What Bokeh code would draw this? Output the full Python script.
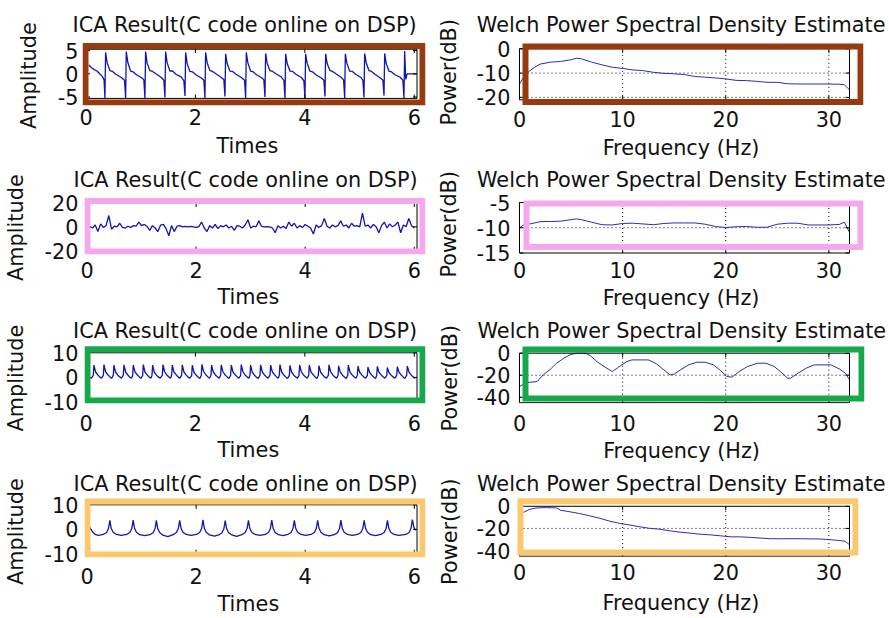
from bokeh.plotting import figure
from bokeh.models import Range1d, FixedTicker, BoxAnnotation
from bokeh.layouts import column, row
from bokeh.embed import file_html
from bokeh.resources import INLINE

# ---------------- data ----------------
title_time = "ICA Result(C code online on DSP)"
title_psd = "Welch Power Spectral Density Estimate"
xlabel_time = "Times"
xlabel_psd = "Frequency (Hz)"
ylabel_time = "Amplitude"
ylabel_psd = "Power(dB)"

xticks_time = [0, 2, 4, 6]
xticks_freq = [0, 10, 20, 30]
yticks_1 = [-5, 0, 5]
yticks_2 = [-20, 0, 20]
yticks_3 = [-10, 0, 10]
yticks_4 = [-10, 0, 10]
yticks_p1 = [-20, -10, 0]
yticks_p2 = [-15, -10, -5]
yticks_p3 = [-40, -20, 0]
yticks_p4 = [-40, -20, 0]

sig1_t = [0.05, 0.10, 0.15, 0.20, 0.25, 0.30, 0.33,
          0.346, 0.358, 0.386, 0.436, 0.486, 0.546, 0.646, 0.704,
          0.724, 0.736, 0.764, 0.814, 0.864, 0.924, 1.024, 1.057,
          1.077, 1.089, 1.117, 1.167, 1.217, 1.277, 1.377, 1.423,
          1.443, 1.455, 1.483, 1.533, 1.583, 1.643, 1.743, 1.789,
          1.809, 1.821, 1.849, 1.899, 1.949, 2.009, 2.109, 2.154,
          2.174, 2.186, 2.214, 2.264, 2.314, 2.374, 2.474, 2.520,
          2.540, 2.552, 2.580, 2.630, 2.680, 2.740, 2.840, 2.898,
          2.918, 2.930, 2.958, 3.008, 3.058, 3.118, 3.218, 3.251,
          3.271, 3.283, 3.311, 3.361, 3.411, 3.471, 3.571, 3.617,
          3.637, 3.649, 3.677, 3.727, 3.777, 3.837, 3.937, 3.982,
          4.002, 4.014, 4.042, 4.092, 4.142, 4.202, 4.302, 4.348,
          4.368, 4.380, 4.408, 4.458, 4.508, 4.568, 4.668, 4.708,
          4.728, 4.740, 4.768, 4.818, 4.868, 4.928, 5.028, 5.061,
          5.081, 5.093, 5.121, 5.171, 5.221, 5.281, 5.381, 5.427,
          5.447, 5.459, 5.487, 5.537, 5.587, 5.647, 5.747, 5.792,
          5.812, 5.824, 5.845, 5.870, 6.040]
sig1_v = [1.9, 1.3, 0.9, 0.6, 0.0, -0.6, -1.3,
          -5.2, 4.6, 2.4, 0.7, 0.5, -0.1, -0.8, -1.4,
          -5.2, 4.8, 2.5, 0.6, 0.4, -0.2, -0.9, -1.3,
          -5.2, 4.8, 2.3, 0.7, 0.5, 0.0, -0.8, -1.4,
          -5.1, 4.8, 2.4, 0.6, 0.6, -0.1, -0.7, -1.5,
          -4.8, 4.6, 2.2, 0.5, 0.4, -0.2, -0.9, -1.4,
          -5.2, 4.6, 2.4, 0.7, 0.5, 0.0, -0.8, -1.3,
          -4.9, 4.3, 2.2, 0.6, 0.5, -0.1, -0.8, -1.4,
          -5.2, 4.6, 2.4, 0.6, 0.4, -0.2, -0.9, -1.3,
          -5.0, 4.4, 2.3, 0.7, 0.5, 0.0, -0.7, -1.4,
          -5.2, 4.3, 2.2, 0.6, 0.5, -0.1, -0.8, -1.5,
          -5.2, 4.3, 2.3, 0.6, 0.4, -0.2, -0.9, -1.4,
          -4.9, 4.3, 2.2, 0.7, 0.5, 0.0, -0.8, -1.3,
          -5.2, 4.3, 2.3, 0.6, 0.5, -0.1, -0.8, -1.4,
          -5.1, 4.4, 2.4, 0.7, 0.5, -0.1, -0.9, -1.4,
          -4.7, 4.4, 2.2, 0.6, 0.4, -0.2, -0.8, -1.4,
          -5.2, 4.9, -1.2, 0.0, 0.0]

sig2_dt = 0.05
sig2_v = [0.5, -1.0, 1.5, -4.0, 2.5, -0.5, 1.0, 9.5, -2.0, 0.5,
          0.0, 3.0, -0.5, -1.0, 0.5, -0.5, 1.0, 0.5, 4.0, 1.0,
          2.0, 0.5, -3.0, 1.0, -1.0, -4.0, 1.5, 2.0, -1.5, -7.5,
          1.0, -4.0, 0.5, 1.0, 0.0, 0.3, 0.0, 0.3, 0.0, -0.5,
          0.2, 4.0, -1.0, -4.0, 1.0, -1.0, 2.0, -1.5, 1.0, 0.0,
          1.5, -1.0, 0.5, -3.0, 1.0, 0.5, -1.0, 1.5, 6.0, -1.0,
          0.5, 0.0, 5.0, 0.3, 0.0, 0.2, 0.0, -1.0, -5.0, 1.0,
          -1.0, 0.5, -1.5, 4.0, 0.5, 3.0, -1.0, 1.0, -0.5, 2.0,
          0.5, -1.0, -6.0, 1.5, -0.5, 1.0, 7.0, 0.5, -1.0, 1.5,
          0.0, 1.0, 5.0, 0.5, 1.5, -1.0, 3.0, 0.5, 1.0, 0.0,
          11.5, 0.5, 1.5, -1.0, 2.0, 0.0, -5.0, 1.0, 4.0, -1.0,
          2.5, 0.0, 1.5, 4.0, -5.0, 1.5, 0.0, 7.0, 1.0, -1.0]

sig3_t = [0.05, 0.100,
          0.133, 0.145, 0.175, 0.215, 0.255, 0.283,
          0.316, 0.328, 0.358, 0.398, 0.438, 0.466,
          0.499, 0.511, 0.541, 0.581, 0.621, 0.649,
          0.682, 0.694, 0.724, 0.764, 0.804, 0.832,
          0.852, 0.864, 0.894, 0.934, 0.974, 1.002,
          1.035, 1.047, 1.077, 1.117, 1.157, 1.185,
          1.206, 1.218, 1.248, 1.288, 1.328, 1.356,
          1.395, 1.407, 1.437, 1.477, 1.517, 1.545,
          1.565, 1.577, 1.607, 1.647, 1.687, 1.715,
          1.748, 1.760, 1.790, 1.830, 1.870, 1.898,
          1.931, 1.943, 1.973, 2.013, 2.053, 2.081,
          2.107, 2.119, 2.149, 2.189, 2.229, 2.257,
          2.284, 2.296, 2.326, 2.366, 2.406, 2.434,
          2.461, 2.473, 2.503, 2.543, 2.583, 2.611,
          2.644, 2.656, 2.686, 2.726, 2.766, 2.794,
          2.826, 2.838, 2.868, 2.908, 2.948, 2.976,
          2.997, 3.009, 3.039, 3.079, 3.119, 3.147,
          3.180, 3.192, 3.222, 3.262, 3.302, 3.330,
          3.363, 3.375, 3.405, 3.445, 3.485, 3.513,
          3.533, 3.545, 3.575, 3.615, 3.655, 3.683,
          3.716, 3.728, 3.758, 3.798, 3.838, 3.866,
          3.893, 3.905, 3.935, 3.975, 4.015, 4.043,
          4.070, 4.082, 4.112, 4.152, 4.192, 4.220,
          4.246, 4.258, 4.288, 4.328, 4.368, 4.396,
          4.429, 4.441, 4.471, 4.511, 4.551, 4.579,
          4.606, 4.618, 4.648, 4.688, 4.728, 4.756,
          4.783, 4.795, 4.825, 4.865, 4.905, 4.933,
          4.959, 4.971, 5.001, 5.041, 5.081, 5.109,
          5.142, 5.154, 5.184, 5.224, 5.264, 5.292,
          5.313, 5.325, 5.355, 5.395, 5.435, 5.463,
          5.496, 5.508, 5.538, 5.578, 5.618, 5.646,
          5.679, 5.691, 5.721, 5.761, 5.801, 5.829,
          5.861, 5.873, 5.903, 5.943, 5.983, 6.020]
sig3_v = [0.1, -0.3,
          0.8, 5.0, 2.2, 1.0, 0.1, -0.3,
          0.7, 5.2, 2.3, 1.1, 0.2, -0.4,
          0.8, 5.0, 2.1, 0.9, 0.1, -0.3,
          0.9, 5.1, 2.2, 1.0, 0.0, -0.3,
          0.8, 5.0, 2.3, 1.1, 0.2, -0.4,
          0.7, 5.2, 2.2, 1.0, 0.1, -0.3,
          0.8, 5.0, 2.1, 0.9, 0.1, -0.3,
          0.8, 5.2, 2.3, 1.0, 0.2, -0.4,
          0.9, 5.0, 2.2, 1.1, 0.1, -0.3,
          0.8, 5.1, 2.2, 1.0, 0.0, -0.3,
          0.7, 5.0, 2.1, 0.9, 0.1, -0.4,
          0.8, 5.3, 2.4, 1.1, 0.2, -0.3,
          0.8, 5.0, 2.2, 1.0, 0.1, -0.3,
          0.9, 5.1, 2.3, 1.0, 0.1, -0.4,
          0.8, 5.0, 2.2, 1.1, 0.2, -0.3,
          0.7, 5.2, 2.3, 1.0, 0.1, -0.3,
          0.8, 5.0, 2.1, 0.9, 0.0, -0.4,
          0.8, 5.1, 2.2, 1.0, 0.1, -0.3,
          0.9, 5.0, 2.3, 1.1, 0.2, -0.3,
          0.8, 5.2, 2.2, 1.0, 0.1, -0.4,
          0.7, 4.9, 2.1, 0.9, 0.1, -0.3,
          0.8, 5.1, 2.3, 1.0, 0.2, -0.3,
          0.8, 5.0, 2.2, 1.1, 0.1, -0.4,
          0.9, 4.8, 2.1, 1.0, 0.0, -0.3,
          0.8, 5.1, 2.3, 1.0, 0.1, -0.3,
          0.7, 4.7, 2.1, 0.9, 0.1, -0.4,
          0.8, 5.0, 2.2, 1.0, 0.2, -0.3,
          0.8, 4.6, 2.1, 1.0, 0.1, -0.3,
          0.7, 4.2, 2.0, 0.9, 0.1, -0.4,
          0.8, 4.5, 2.1, 1.0, 0.2, -0.3,
          0.7, 4.0, 1.9, 0.9, 0.1, -0.3,
          0.8, 4.4, 2.1, 1.0, 0.1, -0.4,
          0.8, 4.6, 2.2, 1.0, 0.1, -0.4]

sig4_t = [0.05, 0.10, 0.16, 0.21,
          0.299, 0.359, 0.394, 0.419, 0.444, 0.479, 0.539, 0.629,
          0.726, 0.786, 0.821, 0.846, 0.871, 0.906, 0.966, 1.056,
          1.152, 1.212, 1.247, 1.272, 1.297, 1.332, 1.392, 1.482,
          1.579, 1.639, 1.674, 1.699, 1.724, 1.759, 1.819, 1.909,
          2.006, 2.066, 2.101, 2.126, 2.151, 2.186, 2.246, 2.336,
          2.414, 2.474, 2.509, 2.534, 2.559, 2.594, 2.654, 2.744,
          2.840, 2.900, 2.935, 2.960, 2.985, 3.020, 3.080, 3.170,
          3.267, 3.327, 3.362, 3.387, 3.412, 3.447, 3.507, 3.597,
          3.681, 3.741, 3.776, 3.801, 3.826, 3.861, 3.921, 4.011,
          4.108, 4.168, 4.203, 4.228, 4.253, 4.288, 4.348, 4.438,
          4.534, 4.594, 4.629, 4.654, 4.679, 4.714, 4.774, 4.864,
          4.961, 5.021, 5.056, 5.081, 5.106, 5.141, 5.201, 5.291,
          5.388, 5.448, 5.483, 5.508, 5.533, 5.568, 5.628, 5.718,
          5.845, 5.905, 5.940, 5.965, 5.990, 6.020]
sig4_v = [0.9, -1.0, -2.2, -2.5,
          -2.1, -1.3, 0.3, 3.6, 0.4, -1.2, -2.1, -2.5,
          -2.1, -1.3, 0.3, 3.8, 0.4, -1.2, -2.2, -2.6,
          -2.2, -1.4, 0.2, 3.6, 0.3, -1.3, -2.4, -3.0,
          -2.2, -1.3, 0.3, 3.7, 0.4, -1.2, -2.1, -2.5,
          -2.1, -1.3, 0.3, 3.9, 0.4, -1.2, -2.3, -2.8,
          -2.3, -1.4, 0.2, 3.5, 0.3, -1.3, -2.3, -2.9,
          -2.2, -1.3, 0.3, 3.7, 0.4, -1.2, -2.1, -2.5,
          -2.1, -1.3, 0.3, 3.8, 0.4, -1.2, -2.2, -2.6,
          -2.1, -1.3, 0.3, 3.6, 0.4, -1.2, -2.1, -2.5,
          -2.1, -1.3, 0.3, 3.7, 0.4, -1.2, -2.2, -2.7,
          -2.2, -1.3, 0.3, 3.8, 0.4, -1.2, -2.1, -2.5,
          -2.1, -1.3, 0.3, 3.7, 0.4, -1.2, -2.2, -2.6,
          -2.1, -1.3, 0.3, 3.6, 0.4, -1.2, -2.1, -2.5,
          -2.1, -1.3, 0.3, 4.0, 1.0, -0.5]

psd1_f = [0, 0.5, 1, 1.5, 2, 3, 4, 5, 5.5, 6, 7, 8, 9, 10, 11, 12, 13, 14, 15, 16,
          17, 18, 19, 20, 21, 22, 23, 24, 25, 26, 27, 28, 29, 30, 31, 31.5, 32]
psd1_db = [-14.5, -11.0, -9.0, -7.5, -6.3, -5.5, -5.2, -4.5, -3.9, -4.1, -5.5, -6.6,
           -7.6, -8.1, -8.7, -9.0, -9.7, -10.1, -10.3, -10.6, -11.4, -11.7, -12.0,
           -12.4, -13.0, -13.1, -13.4, -13.8, -13.8, -14.4, -14.5, -14.5, -14.5,
           -14.5, -14.6, -14.8, -16.9]

psd2_f = [0, 0.5, 1, 2, 3, 4, 5, 5.5, 6, 7, 8, 9, 10, 11, 12, 13, 14, 15, 16, 17,
          18, 19, 20, 21, 22, 23, 24, 25, 26, 27, 28, 29, 30, 31, 31.5, 32]
psd2_db = [-10.0, -9.3, -9.25, -8.8, -8.75, -8.7, -8.4, -8.25, -8.4, -8.9, -9.4,
           -9.45, -9.15, -9.1, -9.25, -9.4, -9.15, -9.05, -9.05, -9.05, -9.3, -9.75,
           -9.95, -9.8, -9.75, -9.9, -9.9, -9.3, -9.1, -9.1, -9.45, -9.45, -9.45,
           -9.35, -8.9, -10.9]

psd3_f = [0, 0.7, 1.7, 2.3, 3.0, 3.6, 4.3, 4.9, 5.5, 6.4, 6.9, 7.5, 8.3, 9.0, 9.6,
          10.4, 10.9, 11.7, 12.5, 13.3, 14.0, 14.6, 15.0, 15.6, 16.4, 17.2, 18.0,
          18.8, 19.5, 20.1, 20.6, 21.3, 22.1, 23.1, 23.9, 24.7, 25.3, 26.0, 26.3,
          27.0, 27.8, 28.6, 29.6, 30.2, 31.0, 31.6, 32.0]
psd3_db = [-30.3, -26.7, -25.8, -19.7, -14.5, -9.1, -4.5, -1.5, 0.0, 0.0, -2.4,
           -7.6, -12.7, -16.7, -12.7, -7.6, -6.1, -6.1, -6.1, -9.7, -15.2, -19.7,
           -19.0, -15.2, -10.6, -8.2, -8.2, -10.6, -15.8, -21.2, -21.8, -16.7,
           -12.1, -9.1, -9.1, -12.1, -16.7, -22.7, -22.7, -18.2, -13.6, -10.6,
           -10.6, -10.6, -14.2, -18.2, -24.2]

psd4_f = [0, 0.5, 1.0, 1.6, 2.6, 3.6, 4.0, 4.9, 5.8, 6.8, 7.8, 8.7, 9.7, 10.7, 11.6,
          12.6, 13.6, 14.6, 15.6, 16.6, 17.5, 18.5, 19.5, 20.5, 21.4, 22.4, 23.4,
          24.4, 25.4, 27.3, 29.3, 30.2, 31.2, 31.6, 32.0]
psd4_db = [-6.5, -5.0, -2.7, -1.5, -1.2, -1.5, -3.6, -5.0, -6.5, -8.6, -10.9, -13.3,
           -15.4, -16.9, -18.4, -19.9, -20.7, -22.2, -23.4, -24.3, -25.2, -25.8,
           -26.7, -27.6, -27.6, -28.1, -28.7, -29.3, -29.3, -29.3, -29.6, -30.2,
           -31.1, -31.7, -34.7]

# ---------------- styling / layout ----------------
FONT = "DejaVu Sans"
FS = "20.8px"
TXT = "#111111"
SIG_COLOR = "#1414b0"
PSD_COLOR = "#2c2cb4"
RING_W = 6
TICK_LEN = 4.0
NB = "\u00a0"

# empirical text-placement constants (pixels)
TITLE_K = 22.0       # cap top of title = frame top - TITLE_K - standoff/2
TITLE_GAP = 16       # frame top = title cap top + TITLE_GAP (negative standoff keeps panel small)
TICK_ASC = 1.2       # tick label box top -> digit top
XLAB_K = 23.5        # tick label extent + gap to x-label cap top

BROWN, PINK, GREEN, YELLOW = "#983a10", "#f5a8ee", "#17a84c", "#fbc86e"

LW, RW = 430, 459
ROWS = [(0, 162), (162, 151), (313, 153), (466, 152)]


def make_panel(cell, frame, box, xlim, ylim, xt, yt, xs, ys, ring, ring_color,
               title, title_left, title_cap, xlabel, xlab_pad, xlab_cap,
               ylabel, ylab_pad, ylab_std, xtick_cap, ytick_right, grid,
               line_color, line_width):
    cx, cy, cw, ch = cell
    fx0, fx1, fy1 = frame
    fy0 = int(round(title_cap + TITLE_GAP))
    bx0, by0, bx1, by1 = box
    sx = (bx1 - bx0) / (xlim[1] - xlim[0])
    sy = (by1 - by0) / (ylim[1] - ylim[0])

    def X(px):
        return xlim[0] + (px - bx0) / sx

    def Y(py):
        return ylim[0] + (by1 - py) / sy

    p = figure(width=cw, height=ch,
               x_range=Range1d(X(fx0), X(fx1)), y_range=Range1d(Y(fy1), Y(fy0)),
               min_border_left=fx0 - cx, min_border_right=cx + cw - fx1,
               min_border_top=fy0 - cy, min_border_bottom=cy + ch - fy1,
               output_backend="svg", toolbar_location=None, title=title)
    p.outline_line_color = None
    p.background_fill_color = "white"
    p.border_fill_color = "white"
    p.xgrid.visible = False
    p.ygrid.visible = False

    # title (left aligned with pixel offset so that it is centred like the original)
    p.title.text_font = FONT
    p.title.text_font_size = FS
    p.title.text_font_style = "normal"
    p.title.text_color = TXT
    p.title.align = "left"
    p.title.offset = title_left - fx0
    p.title.vertical_align = "top"
    p.title.standoff = 2 * (fy0 - TITLE_K - title_cap)

    ax = p.xaxis[0]
    ax.ticker = FixedTicker(ticks=xt, minor_ticks=[])
    ax.axis_line_color = None
    ax.major_tick_line_color = None
    ax.minor_tick_line_color = None
    ax.major_tick_out = 0
    ax.major_tick_in = 0
    ax.major_label_text_font = FONT
    ax.major_label_text_font_size = FS
    ax.major_label_text_color = TXT
    tstd = max(0, int(round(xtick_cap - TICK_ASC - fy1)))
    ax.major_label_standoff = tstd
    ax.axis_label = xlabel + NB * xlab_pad
    ax.axis_label_text_font = FONT
    ax.axis_label_text_font_size = FS
    ax.axis_label_text_font_style = "normal"
    ax.axis_label_text_color = TXT
    ax.axis_label_standoff = max(0, int(round(xlab_cap - fy1 - tstd - XLAB_K)))

    ay = p.yaxis[0]
    ay.ticker = FixedTicker(ticks=yt, minor_ticks=[])
    ay.major_label_overrides = {t: str(t) for t in yt}
    ay.axis_line_color = None
    ay.major_tick_line_color = None
    ay.minor_tick_line_color = None
    ay.major_tick_out = 0
    ay.major_tick_in = 0
    ay.major_label_text_font = FONT
    ay.major_label_text_font_size = FS
    ay.major_label_text_color = TXT
    ay.major_label_standoff = max(0, int(round(fx0 - ytick_right)))
    ay.axis_label = ylabel + NB * ylab_pad
    ay.axis_label_text_font = FONT
    ay.axis_label_text_font_size = FS
    ay.axis_label_text_font_style = "normal"
    ay.axis_label_text_color = TXT
    ay.axis_label_standoff = ylab_std

    # dotted grid (only inside the axes box)
    if grid:
        gx0, gy0, gx1, gy1 = [], [], [], []
        for t in xt:
            if xlim[0] < t < xlim[1]:
                gx0.append(t); gy0.append(ylim[0]); gx1.append(t); gy1.append(ylim[1])
        for t in yt:
            if ylim[0] < t < ylim[1]:
                gx0.append(xlim[0]); gy0.append(t); gx1.append(xlim[1]); gy1.append(t)
        p.segment(gx0, gy0, gx1, gy1, line_color="black", line_width=1, line_dash="1 3")

    # data line
    p.line(xs, ys, line_color=line_color, line_width=line_width)

    # axes box
    p.line([xlim[0], xlim[1], xlim[1], xlim[0], xlim[0]],
           [ylim[0], ylim[0], ylim[1], ylim[1], ylim[0]], line_color="black", line_width=1)

    # inward ticks on all four sides
    tx0, ty0, tx1, ty1 = [], [], [], []
    for t in xt:
        if xlim[0] <= t <= xlim[1]:
            tx0 += [t, t]; tx1 += [t, t]
            ty0 += [ylim[0], ylim[1]]; ty1 += [ylim[0] + TICK_LEN / sy, ylim[1] - TICK_LEN / sy]
    for t in yt:
        if ylim[0] <= t <= ylim[1]:
            ty0 += [t, t]; ty1 += [t, t]
            tx0 += [xlim[0], xlim[1]]; tx1 += [xlim[0] + TICK_LEN / sx, xlim[1] - TICK_LEN / sx]
    p.segment(tx0, ty0, tx1, ty1, line_color="black", line_width=1)

    # coloured highlight rectangle
    rx0, ry0, rx1, ry1 = ring
    h = RING_W / 2.0
    p.add_layout(BoxAnnotation(left=X(rx0 + h), right=X(rx1 - h), top=Y(ry0 + h), bottom=Y(ry1 - h),
                               fill_alpha=0, line_color=ring_color, line_alpha=1.0,
                               line_width=RING_W, line_join="miter"))
    return p


sig2_t = [sig2_dt * (i + 1) for i in range(len(sig2_v))]

xl_t = (0, 6.05)
xl_f = (0, 32)

(r1y, r1h), (r2y, r2h), (r3y, r3h), (r4y, r4h) = ROWS

pL1 = make_panel((0, r1y, LW, r1h), (82, 425, 107), (85.5, 48.4, 416.5, 99.6), xl_t, (-5.3, 5.3),
                 xticks_time, yticks_1, sig1_t, sig1_v, (82, 42, 425, 107), BROWN,
                 title_time, 72, 15, xlabel_time, 2, 139.4, ylabel_time, 2, 14,
                 110.9, 77.5, False, SIG_COLOR, 1.3)
pR1 = make_panel((LW, r1y, RW, r1h), (518, 863, 105), (519, 48.3, 849, 99.3), xl_f, (-21, 0),
                 xticks_freq, yticks_p1, psd1_f, psd1_db, (522, 43, 863, 104.5), BROWN,
                 title_psd, 476.3, 16, xlabel_psd, 3, 139.5, ylabel_psd, 1, 13,
                 111.0, 510.5, True, PSD_COLOR, 1.0)
pL2 = make_panel((0, r2y, LW, r2h), (83, 425, 255), (85.5, 202, 416.5, 251), xl_t, (-20, 20),
                 xticks_time, yticks_2, sig2_t, sig2_v, (83, 197, 425, 255), PINK,
                 title_time, 72, 170, xlabel_time, 2, 289.6, ylabel_time, 2, 14,
                 263.4, 77.5, False, SIG_COLOR, 1.3)
pR2 = make_panel((LW, r2y, RW, r2h), (518, 863, 254), (519, 202, 849, 252.5), xl_f, (-15, -5),
                 xticks_freq, yticks_p2, psd2_f, psd2_db, (523, 200, 863, 249.5), PINK,
                 title_psd, 476.5, 171, xlabel_psd, 3, 289.6, ylabel_psd, 1, 13,
                 262.4, 510.5, True, PSD_COLOR, 1.0)
pL3 = make_panel((0, r3y, LW, r3h), (84, 425, 404), (85.5, 352.5, 416.5, 402.5), xl_t, (-10, 10),
                 xticks_time, yticks_3, sig3_t, sig3_v, (84, 346, 425, 404), GREEN,
                 title_time, 72.5, 322.6, xlabel_time, 2, 442.6, ylabel_time, 2, 14,
                 416.6, 77.5, False, SIG_COLOR, 1.3)
pR3 = make_panel((LW, r3y, RW, r3h), (518, 864, 403), (519, 352.7, 849, 402.2), xl_f, (-45, 0),
                 xticks_freq, yticks_p3, psd3_f, psd3_db, (522, 346, 864, 401), GREEN,
                 title_psd, 477, 322.6, xlabel_psd, 3, 442.6, ylabel_psd, 2, 12,
                 415.6, 510.5, True, PSD_COLOR, 1.0)
pL4 = make_panel((0, r4y, LW, r4h), (83, 425, 557), (85.5, 504.3, 416.5, 553.3), xl_t, (-10, 10),
                 xticks_time, yticks_4, sig4_t, sig4_v, (83, 498, 425, 557), YELLOW,
                 title_time, 72, 475.6, xlabel_time, 2, 595.2, ylabel_time, 2, 14,
                 568.6, 77.5, False, SIG_COLOR, 1.3)
pR4 = make_panel((LW, r4y, RW, r4h), (516, 858, 558), (519, 506, 849, 556.6), xl_f, (-45, 0),
                 xticks_freq, yticks_p4, psd4_f, psd4_db, (517, 498, 858, 556), YELLOW,
                 title_psd, 476.5, 475.6, xlabel_psd, 2, 595.2, ylabel_psd, 2, 12,
                 565.7, 510.5, True, PSD_COLOR, 1.0)

layout = column(row(pL1, pR1), row(pL2, pR2), row(pL3, pR3), row(pL4, pR4))

with open("out.html", "w") as f:
    f.write(file_html(layout, INLINE))
